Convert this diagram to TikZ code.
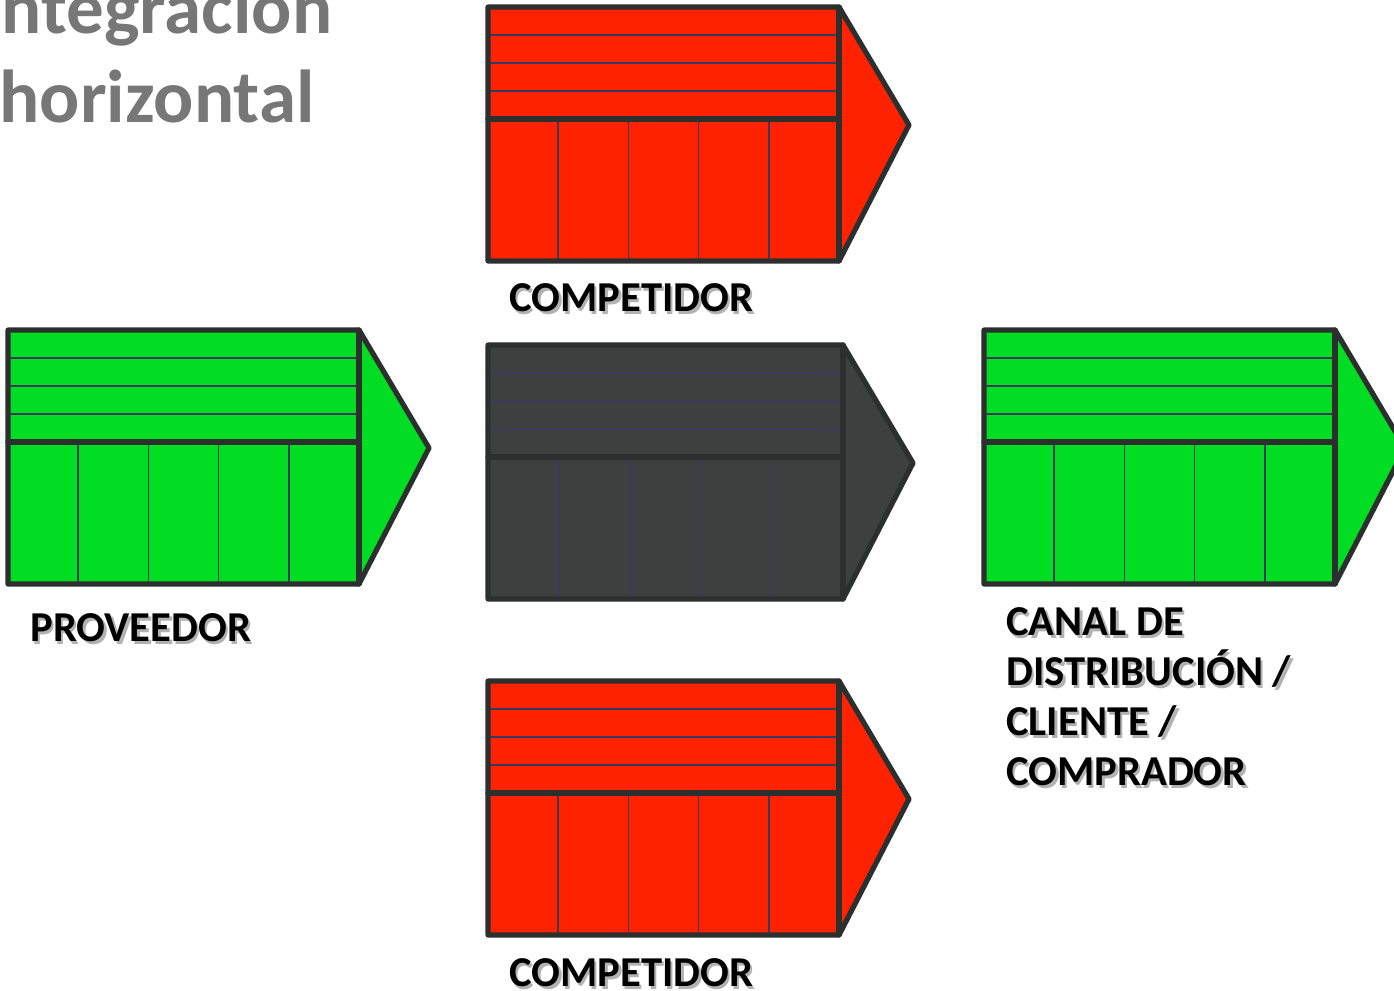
\documentclass[tikz,border=0pt]{standalone}
\usepackage{fontspec}
\setmainfont{Carlito}
\definecolor{vcred}{HTML}{FF2200}
\definecolor{vcgreen}{HTML}{00DD22}
\definecolor{vcgray}{HTML}{3C4140}
\definecolor{vcedge}{HTML}{2B2F2E}
\definecolor{vcthin}{HTML}{3A3A5C}
\definecolor{titlegray}{HTML}{777777}
\tikzset{
  thinline/.style={draw=vcthin, line width=0.8pt},
  thickline/.style={draw=vcedge, line width=2.6pt, line join=round, line cap=round},
  lbl/.style={font=\bfseries\fontsize{21.3pt}{25pt}\selectfont, inner sep=0pt, anchor=base west, text=black, align=left},
  lblshadow/.style={lbl, text=black!30},
  ttl/.style={font=\bfseries\fontsize{37.5pt}{44.5pt}\selectfont, inner sep=0pt, anchor=base, text=titlegray},
}
\newcommand\vcblock[4]{% x, y, width, fill
  \begin{scope}[shift={(#1,#2)}]
    \fill[#4] (0,0) -- (#3,0) -- (#3+70,118) -- (#3,254) -- (0,254) -- cycle;
    \foreach \yy in {28,56,84} \draw[thinline] (0,\yy) -- (#3,\yy);
    \foreach \k in {1,...,4} \draw[thinline] ({#3*\k/5},112) -- ({#3*\k/5},254);
    \draw[thickline] (0,112) -- (#3,112);
    \draw[thickline] (#3,0) -- (#3,254);
    \draw[thickline] (0,0) -- (#3,0) -- (#3+70,118) -- (#3,254) -- (0,254) -- cycle;
  \end{scope}}
\newcommand\shlabel[4]{% name, x, y, text
  \node[lblshadow] (#1s) at (#2+2.5,#3+3) {#4};
  \node[lbl] (#1) at (#2,#3) {#4};}
\begin{document}
\begin{tikzpicture}[x=0.5pt, y=-0.5pt]
  \useasboundingbox (0,0) rectangle (1394,991);
  \clip (0,0) rectangle (1394,991);
  % title
  \node[ttl] (t1) at (157,33) {Integración};
  \node[ttl] (t2) at (157,122) {horizontal};
  % blocks
  \vcblock{488}{7}{351}{vcred}
  \vcblock{8}{330}{351}{vcgreen}
  \vcblock{488}{345}{355}{vcgray}
  \vcblock{984}{330}{351}{vcgreen}
  \vcblock{488}{681}{351}{vcred}
  % labels
  \shlabel{comp1}{509}{311}{COMPETIDOR}
  \shlabel{prov}{30}{641}{PROVEEDOR}
  \shlabel{comp2}{509}{986}{COMPETIDOR}
  \shlabel{canal}{1006}{785}{CANAL DE\\DISTRIBUCIÓN /\\CLIENTE /\\COMPRADOR}
\end{tikzpicture}
\end{document}
